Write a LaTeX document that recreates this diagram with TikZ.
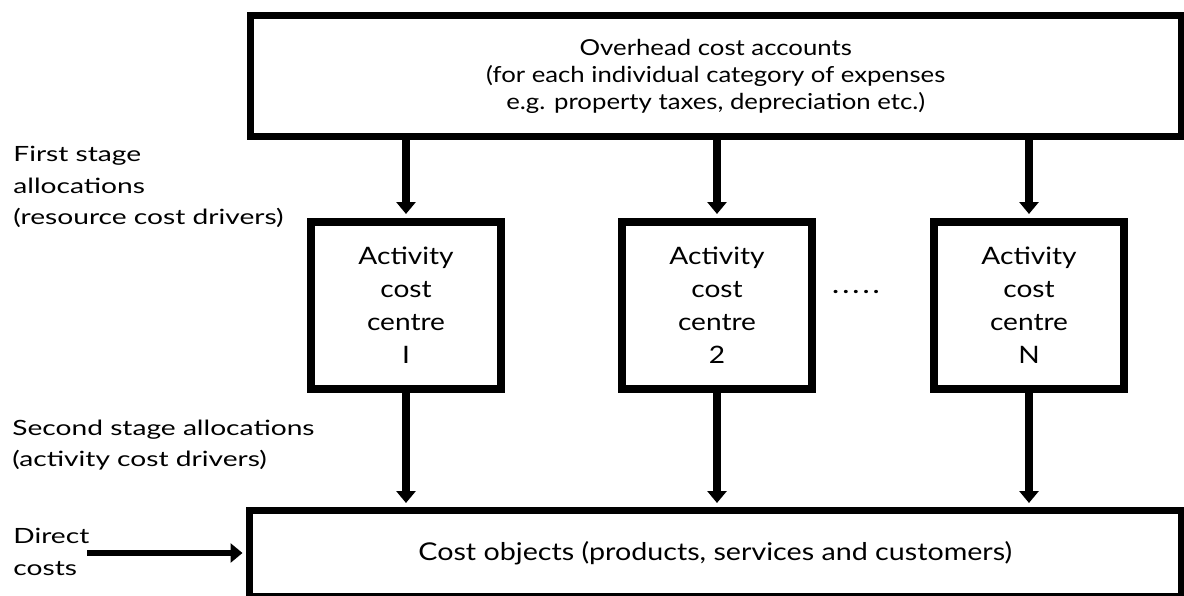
\documentclass[tikz,border=0pt]{standalone}
\usepackage{fontspec}
\setmainfont{Lato}[FakeStretch=1.17]
\newfontfamily\widefont{Lato}[FakeStretch=1.34]
\usetikzlibrary{arrows.meta}
\begin{document}
\begin{tikzpicture}[x=0.5pt,y=-0.5pt,
  box/.style={draw=black, line width=3.5pt, rectangle, inner sep=0pt, align=center},
  acbox/.style={box, line width=4pt, minimum width=95pt, minimum height=83.5pt,
    font=\fontsize{12}{16.5}\selectfont},
  flow/.style={line width=4pt, -{Triangle[width=9.5pt,length=6pt]}, shorten >=2pt},
  lbl/.style={align=left, anchor=west, inner sep=0pt,
    font=\widefont\fontsize{10.5}{15.75}\selectfont},
]
\useasboundingbox (0,0) rectangle (1184,595);

% overhead accounts
\node[box, minimum width=465.25pt, minimum height=60.5pt,
  font=\fontsize{11}{13.5}\selectfont] (over) at (715.75,76)
  {Overhead cost accounts\\(for each individual category of expenses\\e.g. property taxes, depreciation etc.)};

% activity cost centres
\node[acbox] (a1) at (406,305.5) {Activity\\cost\\centre\\I};
\node[acbox] (a2) at (717,305.5) {Activity\\cost\\centre\\2};
\node[acbox] (aN) at (1029,305.5) {Activity\\cost\\centre\\N};
\node[anchor=base, inner sep=0pt, font=\fontsize{11}{13}\selectfont\bfseries] (dots) at (856,293)
  {.\hspace{2pt}.\hspace{2pt}.\hspace{2pt}.\hspace{2pt}.};

% cost objects
\node[box, minimum width=465.75pt, minimum height=42.75pt,
  font=\fontsize{12.25}{14}\selectfont] (obj) at (715.25,553.25)
  {Cost objects (products, services and customers)};

% side labels
\node[lbl] (first) at (13,187) {First stage\\allocations\\(resource cost drivers)};
\node[lbl] (second) at (12,445) {Second stage allocations\\(activity cost drivers)};
\node[lbl] (direct) at (13,552) {Direct\\costs};
\coordinate (dcstart) at (87,553);

% allocations
\foreach \n in {a1,a2,aN}{
  \draw[flow] (over.south -| \n) -- (\n.north);
  \draw[flow] (\n.south) -- (obj.north -| \n);
}
\draw[flow, line width=3pt, shorten >=1.75pt] (dcstart) -- (dcstart -| obj.west);
\end{tikzpicture}
\end{document}
